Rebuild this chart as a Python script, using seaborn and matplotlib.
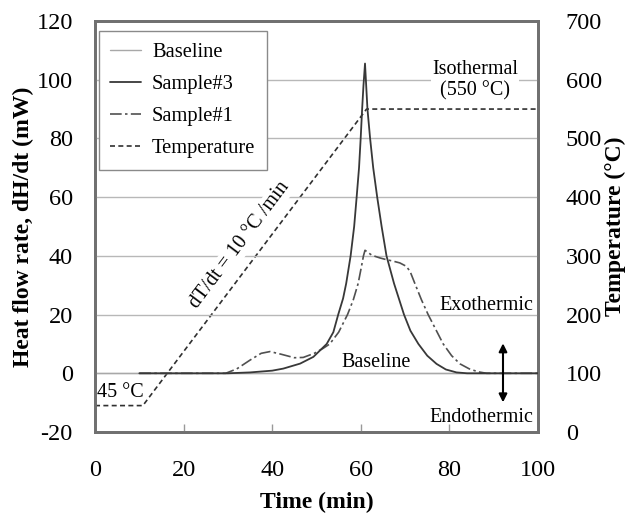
import numpy as np
import pandas as pd
import matplotlib
matplotlib.use("Agg")
import matplotlib.pyplot as plt
import seaborn as sns

# Heat flow traces (time in min, heat flow in mW)
s3_time = [10, 20, 30, 35, 40, 42.5, 46.3, 49.3, 52.3, 53.8, 54.9, 56.0, 56.7, 57.7,
           58.5, 59.06, 59.6, 59.97, 60.3, 60.6, 60.95, 61.5, 62.1, 62.8, 63.7,
           64.7, 65.8, 67.5, 69.75, 71.2, 73.0, 75.0, 77.1, 79.2, 81.6, 84, 100]
s3_flow = [0, 0, 0, 0.3, 0.9, 1.6, 3.3, 5.6, 10, 14, 20, 25.5, 30.6, 40,
           50, 60, 70, 80, 90, 98, 105.5, 90, 80, 70, 60,
           50, 40, 30.6, 20, 14.5, 10, 6, 3.2, 1.3, 0.3, 0, 0]

s1_time = [10, 29.5, 32, 35, 37.5, 39.5, 42, 45, 47, 49.5, 51.5, 53.0, 55.0, 57.0,
           58.3, 59.4, 60.1, 60.6, 60.95, 62.5, 64.3, 65.8, 67.3, 68.8, 70.2, 71.1,
           72.2, 73.7, 75.2, 76.9, 78.6, 80.5, 82.4, 84.5, 86.5, 88.4, 100]
s1_flow = [0, 0, 1.5, 4.5, 6.8, 7.4, 6.5, 5.3, 5.4, 6.8, 8.5, 10, 14, 20,
           25, 30.6, 36, 40, 41.9, 40.2, 39.3, 38.7, 38.2, 37.6, 36.5, 34.8,
           30.6, 25, 20, 15, 10, 6, 3.2, 1.5, 0.5, 0, 0]

base_time = [0, 100]
base_flow = [0, 0]

# Furnace temperature programme (°C)
temp_time = [0, 10.8, 61.3, 100]
temp_degc = [45, 45, 550, 550]

sns.set_style("white")
plt.rcParams["font.family"] = ["Liberation Serif", "DejaVu Serif"]
plt.rcParams["axes.unicode_minus"] = False
for key in ("text.color", "axes.labelcolor", "xtick.color", "ytick.color"):
    plt.rcParams[key] = "black"

fig = plt.figure(figsize=(6.31, 5.18), dpi=100)
ax = fig.add_axes([0.1506, 0.166, 0.8526 - 0.1506, 0.9595 - 0.166])
ax2 = ax.twinx()
ax.set_zorder(ax2.get_zorder() + 1)
ax.patch.set_visible(False)

grid_c = "#b8b8b8"
for v in [0, 20, 40, 60, 80, 100]:
    ax.axhline(v, color=grid_c, lw=1.0, zorder=0)

base = pd.DataFrame({"t": base_time, "q": base_flow})
s3 = pd.DataFrame({"t": s3_time, "q": s3_flow})
s1 = pd.DataFrame({"t": s1_time, "q": s1_flow})
tp = pd.DataFrame({"t": temp_time, "T": temp_degc})

sns.lineplot(data=base, x="t", y="q", ax=ax, color="#a8a8a8", lw=1.0,
             sort=False, estimator=None, label="Baseline", zorder=2)
sns.lineplot(data=s3, x="t", y="q", ax=ax, color="#383838", lw=1.3,
             sort=False, estimator=None, label="Sample#3", zorder=4)
sns.lineplot(data=s1, x="t", y="q", ax=ax, color="#505050", lw=1.2,
             linestyle=(0, (7, 2, 1.5, 2)), sort=False, estimator=None,
             label="Sample#1", zorder=3)
sns.lineplot(data=tp, x="t", y="T", ax=ax2, color="#303030", lw=1.2,
             linestyle=(0, (3, 2)), sort=False, estimator=None,
             label="Temperature", zorder=3)

ax.set_xlim(0, 100)
ax.set_ylim(-20, 120)
ax2.set_ylim(0, 700)
ax.set_xticks(range(0, 101, 20))
ax.set_yticks(range(-20, 121, 20))
ax2.set_yticks(range(0, 701, 100))

tick_fs = 17.5
ax.tick_params(axis="x", direction="in", length=6, width=1, color="#999999",
               labelcolor="black", labelsize=tick_fs, pad=20, top=False, bottom=True)
ax.tick_params(axis="y", length=0, labelsize=tick_fs, pad=16)
ax2.tick_params(axis="y", length=0, labelsize=tick_fs, pad=20)

for a in (ax, ax2):
    for sp in a.spines.values():
        sp.set_color("#707070")
        sp.set_linewidth(2.0)

lab_fs = 17
ax.set_xlabel("Time (min)", fontsize=lab_fs, fontweight="bold", labelpad=8)
ax.set_ylabel("Heat flow rate, dH/dt (mW)", fontsize=lab_fs, fontweight="bold", labelpad=2)
ax2.set_ylabel("Temperature (°C)", fontsize=lab_fs, fontweight="bold", labelpad=2)

# Legend with all four series
h1, l1 = ax.get_legend_handles_labels()
h2, l2 = ax2.get_legend_handles_labels()
if ax2.get_legend() is not None:
    ax2.get_legend().remove()
leg = ax.legend(h1 + h2, l1 + l2, loc="upper left", bbox_to_anchor=(0.008, 0.975),
                fontsize=14.8, frameon=True, fancybox=False, framealpha=1,
                edgecolor="#8a8a8a", handlelength=1.5, handletextpad=0.55,
                labelspacing=0.62, borderpad=0.55, borderaxespad=0)
leg.get_frame().set_linewidth(1.0)
leg.set_zorder(10)

ann_fs = 14.5
white = dict(facecolor="white", edgecolor="none", pad=1)
ax.text(85.8, 99.8, "Isothermal\n(550 °C)", ha="center", va="center",
        fontsize=ann_fs, linespacing=1.15, bbox=white, zorder=5)
ax.text(32.7, 43.6, "dT/dt = 10 °C /min", ha="center", va="center",
        rotation=53, rotation_mode="anchor", fontsize=ann_fs, bbox=white, zorder=5)
ax.text(98.9, 23.2, "Exothermic", ha="right", va="center", fontsize=ann_fs, zorder=5)
ax.text(63.4, 3.6, "Baseline", ha="center", va="center", fontsize=ann_fs, zorder=5)
ax.text(0.5, -6.5, "45 °C", ha="left", va="center", fontsize=ann_fs, zorder=5)
ax.text(98.9, -15.0, "Endothermic", ha="right", va="center", fontsize=ann_fs, zorder=5)
ax.annotate("", xy=(92.1, 10.2), xytext=(92.1, -9.9),
            arrowprops=dict(arrowstyle="<|-|>", color="black", lw=1.5,
                            mutation_scale=12, shrinkA=0, shrinkB=0), zorder=6)

fig.savefig("out.png", dpi=100)
